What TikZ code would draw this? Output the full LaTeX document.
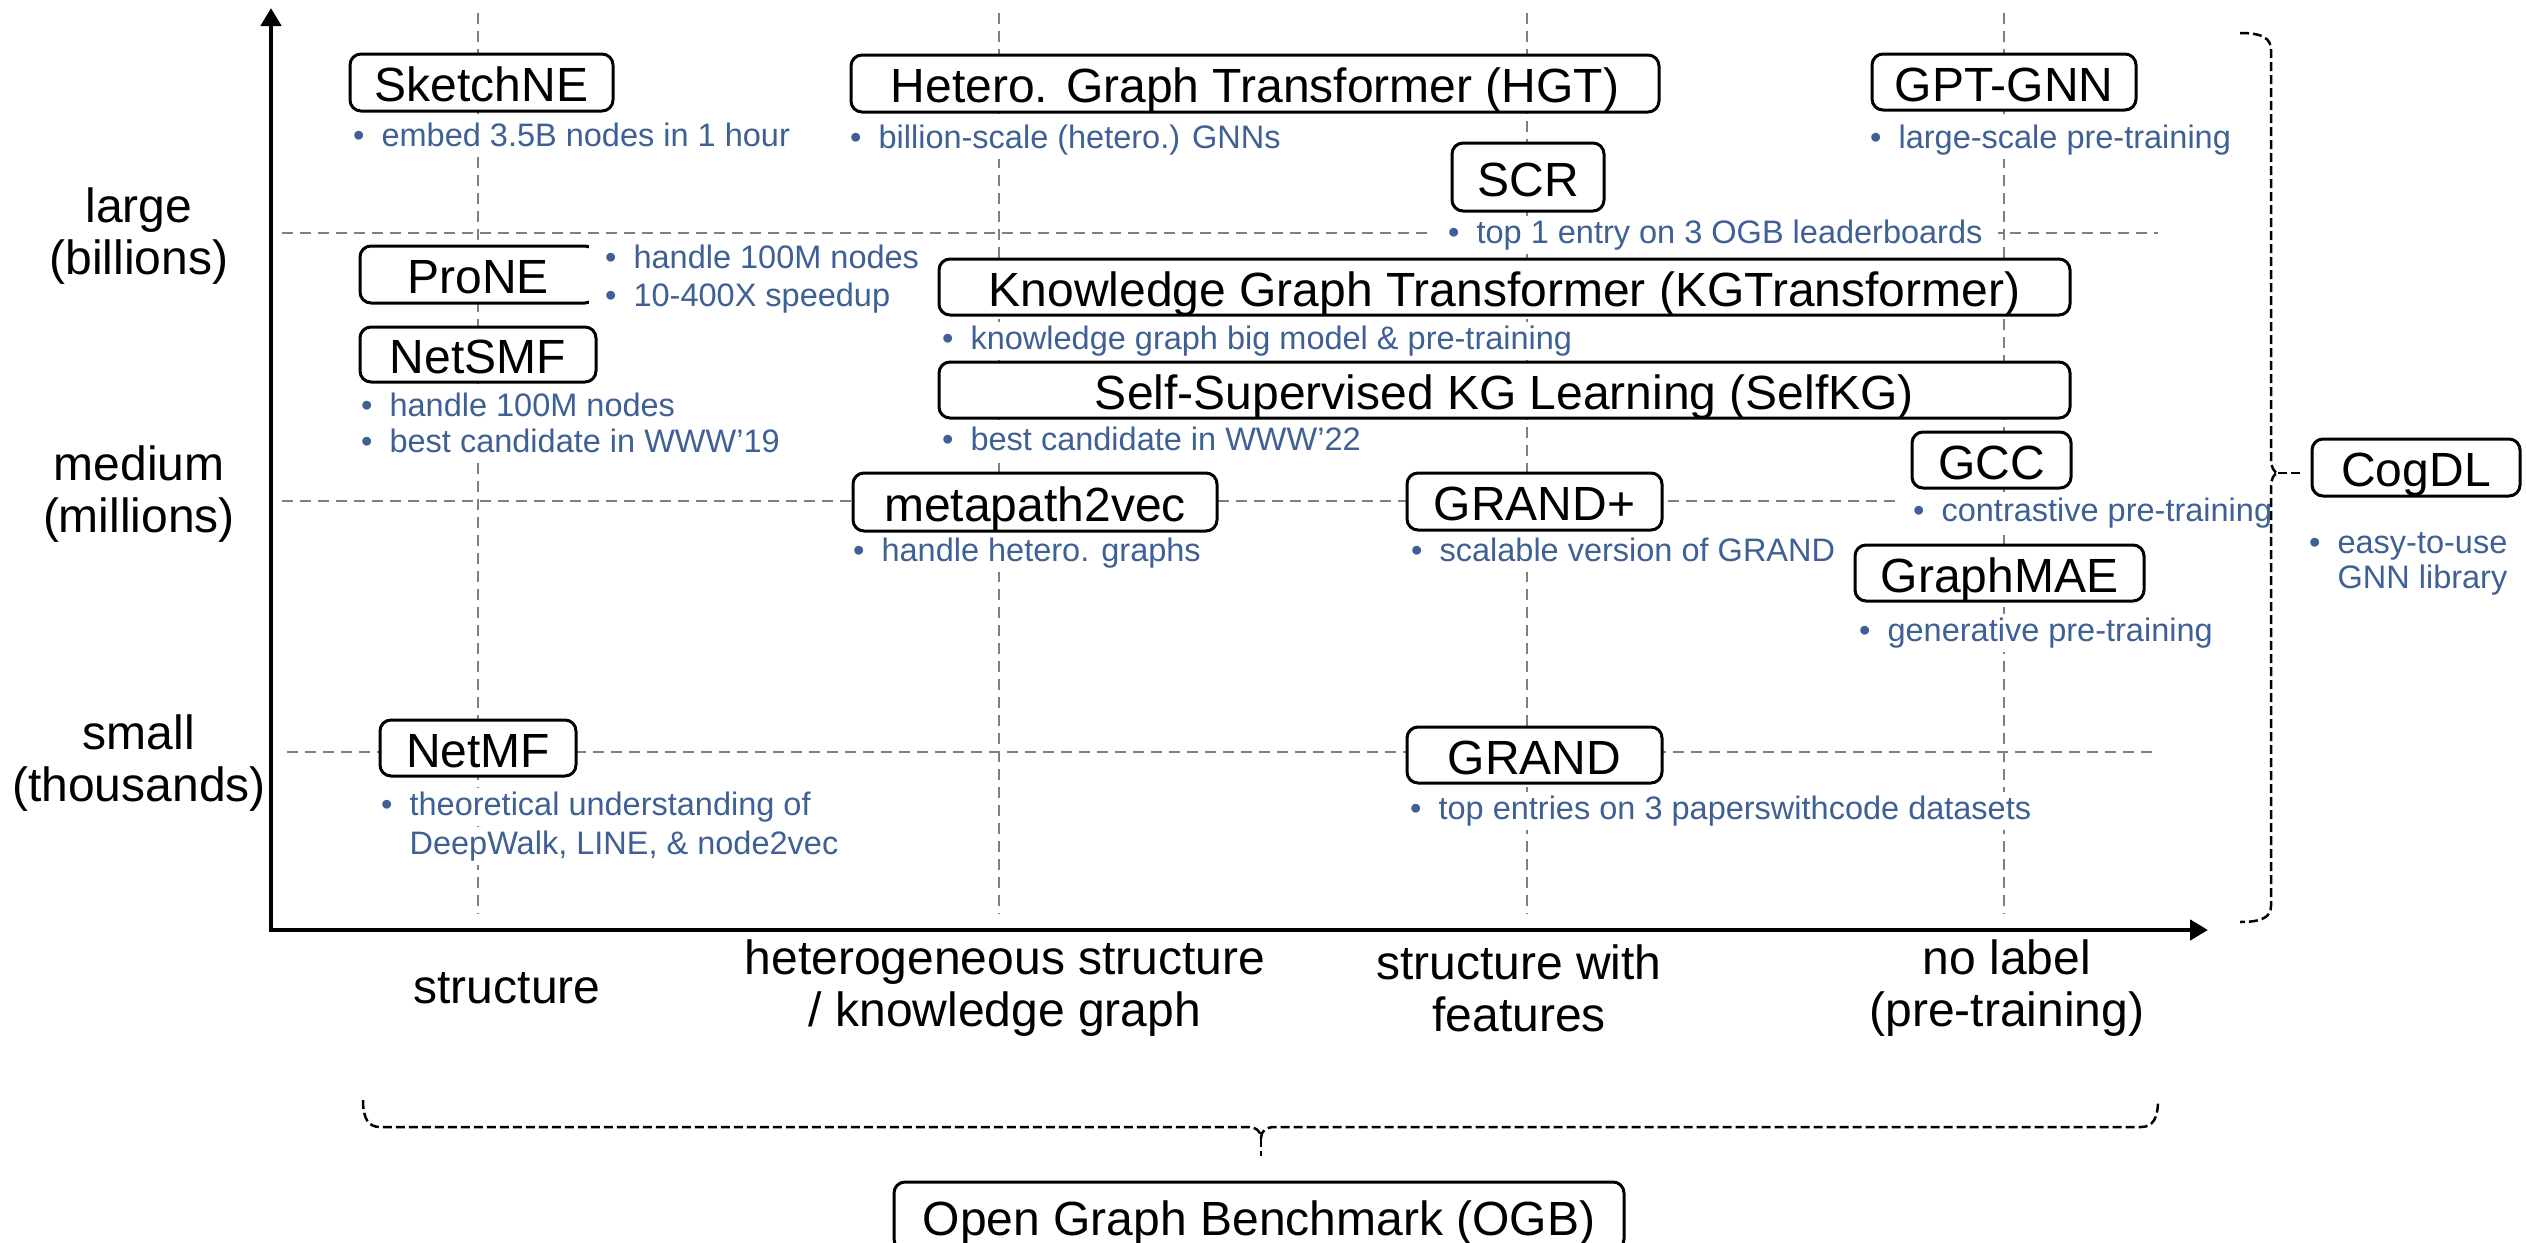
\documentclass[tikz,border=0pt]{standalone}
\usepackage{fontspec}
\setmainfont{Liberation Sans}
\usetikzlibrary{arrows.meta}
\definecolor{bultext}{RGB}{62,96,148}
\definecolor{gridgray}{RGB}{128,128,128}
\begin{document}
\begin{tikzpicture}[x=1pt,y=-1pt,
  gridline/.style={draw=gridgray, line width=2.7pt, dash pattern=on 11pt off 7pt},
  axis/.style={draw=black, line width=4.5pt, line join=miter, arrows={Triangle[length=18pt,width=20pt]-Triangle[length=18pt,width=20pt]}},
  box/.style={draw=black, line width=3pt, rounded corners=11pt, fill=white, inner sep=0pt,
    font=\fontsize{48}{56}\selectfont, text height=38pt, text depth=0pt},
  bul/.style={text=bultext, fill=white, font=\fontsize{32.5}{38}\selectfont,
    inner xsep=16pt, inner ysep=3pt, text height=24.5pt, text depth=8pt, anchor=base west},
  lab/.style={font=\fontsize{48}{52}\selectfont, align=center, inner sep=0pt},
  bracestyle/.style={draw=black, line width=2.5pt, dash pattern=on 9pt off 4pt}
]
\useasboundingbox (0,0) rectangle (2526,1242);

% grid
\draw[gridline] (282,233) -- (2158,233);
\draw[gridline] (282,501) -- (2158,501);
\draw[gridline] (287,752) -- (2158,752);
\draw[gridline] (478,13) -- (478,914);
\draw[gridline] (999,13) -- (999,914);
\draw[gridline] (1527,13) -- (1527,914);
\draw[gridline] (2004,13) -- (2004,914);

% axes
\coordinate (ytip) at (271,8);
\coordinate (xtip) at (2208,930);
\draw[axis] (ytip) |- (xtip);

% row labels
\node[lab] (large) at (139,236) {large\\(billions)};
\node[lab] (medium) at (139,494) {medium\\(millions)};
\node[lab] (small) at (139,763) {small\\(thousands)};

% column labels
\node[lab] (cstruct) at (507,988) {structure};
\node[lab] (chetero) at (1005,988) {heterogeneous structure\\/ knowledge graph};
\node[lab] (cfeat) at (1519,988) {structure with\\features};
\node[lab] (cnolabel) at (2007,988) {no label\\(pre-training)};

% method boxes
\node[box, minimum width=263pt, minimum height=57pt] (sketchne) at (481.5,82.5) {SketchNE};
\node[bul] (sketchneB) at (337,146) {•\hspace{17pt}embed 3.5B nodes in 1 hour};

\node[box, minimum width=808pt, minimum height=57pt] (hgt) at (1255,83.5) {Hetero. Graph Transformer (HGT)};
\node[bul] (hgtB) at (834,148) {•\hspace{17pt}billion-scale (hetero.) GNNs};

\node[box, minimum width=264pt, minimum height=56pt] (gptgnn) at (2004,82) {GPT-GNN};
\node[bul] (gptgnnB) at (1854,148) {•\hspace{17pt}large-scale pre-training};

\node[box, minimum width=152pt, minimum height=68pt] (scr) at (1528,177) {SCR};
\node[bul] (scrB) at (1432,243) {•\hspace{17pt}top 1 entry on 3 OGB leaderboards};

\node[box, minimum width=236pt, minimum height=57pt] (prone) at (478,274.5) {ProNE};
\node[bul] (proneB1) at (589,268) {•\hspace{17pt}handle 100M nodes};
\node[bul] (proneB2) at (589,306) {•\hspace{17pt}10-400X speedup};

\node[box, minimum width=236pt, minimum height=55pt] (netsmf) at (478,354.5) {NetSMF};
\node[bul] (netsmfB1) at (345,416) {•\hspace{17pt}handle 100M nodes};
\node[bul] (netsmfB2) at (345,452) {•\hspace{17pt}best candidate in WWW’19};

\node[box, minimum width=1131pt, minimum height=56pt] (kgt) at (1504.5,287) {Knowledge Graph Transformer (KGTransformer)};
\node[bul] (kgtB) at (926,349) {•\hspace{17pt}knowledge graph big model \& pre-training};

\node[box, minimum width=1131pt, minimum height=56pt] (selfkg) at (1504.5,390) {Self-Supervised KG Learning (SelfKG)};
\node[bul] (selfkgB) at (926,450) {•\hspace{17pt}best candidate in WWW’22};

\node[box, minimum width=159pt, minimum height=56pt] (gcc) at (1991.5,460) {GCC};
\node[bul] (gccB) at (1897,521) {•\hspace{17pt}contrastive pre-training};

\node[box, minimum width=364pt, minimum height=58pt] (mp2v) at (1035,502) {metapath2vec};
\node[bul] (mp2vB) at (837,561) {•\hspace{17pt}handle hetero. graphs};

\node[box, minimum width=255pt, minimum height=57pt] (grandp) at (1534.5,501.5) {GRAND+};
\node[bul] (grandpB) at (1395,561) {•\hspace{17pt}scalable version of GRAND};

\node[box, minimum width=289pt, minimum height=56pt] (graphmae) at (1999.5,573) {GraphMAE};
\node[bul] (graphmaeB) at (1843,641) {•\hspace{17pt}generative pre-training};

\node[box, minimum width=196pt, minimum height=56pt] (netmf) at (478,748) {NetMF};
\node[bul] (netmfB1) at (365,815) {•\hspace{17pt}theoretical understanding of};
\node[bul] (netmfB2) at (365,854) {\phantom{•}\hspace{17pt}DeepWalk, LINE, \& node2vec};

\node[box, minimum width=255pt, minimum height=56pt] (grand) at (1534.5,755) {GRAND};
\node[bul] (grandB) at (1394,819) {•\hspace{17pt}top entries on 3 paperswithcode datasets};

\node[box, minimum width=208pt, minimum height=57pt] (cogdl) at (2416,467.5) {CogDL};
\node[bul] (cogdlB1) at (2293,553) {•\hspace{17pt}easy-to-use};
\node[bul] (cogdlB2) at (2293,588) {\phantom{•}\hspace{17pt}GNN library};

\node[box, minimum width=730pt, minimum height=68pt] (ogb) at (1259,1216) {Open Graph Benchmark (OGB)};

% right brace to CogDL
\coordinate (rbTop) at (2240,33);
\coordinate (rbTip) at (2278,473);
\coordinate (rbBot) at (2240,922);
\draw[bracestyle] (rbTop) .. controls (2262,33) and (2271,38) .. (2271,50)
  -- (2271,458) .. controls (2271,467) and (2274,473) .. (rbTip)
  .. controls (2274,473) and (2271,479) .. (2271,488)
  -- (2271,906) .. controls (2271,917) and (2262,922) .. (rbBot);
\draw[bracestyle, shorten >=10pt] (rbTip) -- (rbTip -| cogdl.west);

% bottom brace to OGB
\coordinate (bbLeft) at (363,1100);
\coordinate (bbTip) at (1261,1138);
\coordinate (bbRight) at (2158,1100);
\coordinate (bbEnd) at (1261,1156);
\draw[bracestyle] (bbLeft) .. controls (363,1118) and (368,1127) .. (380,1127)
  -- (1247,1127) .. controls (1256,1127) and (1261,1131) .. (bbTip)
  .. controls (1261,1131) and (1266,1127) .. (1275,1127)
  -- (2141,1127) .. controls (2153,1127) and (2158,1118) .. (bbRight);
\draw[bracestyle] (bbTip) -- (bbEnd);
\end{tikzpicture}
\end{document}
